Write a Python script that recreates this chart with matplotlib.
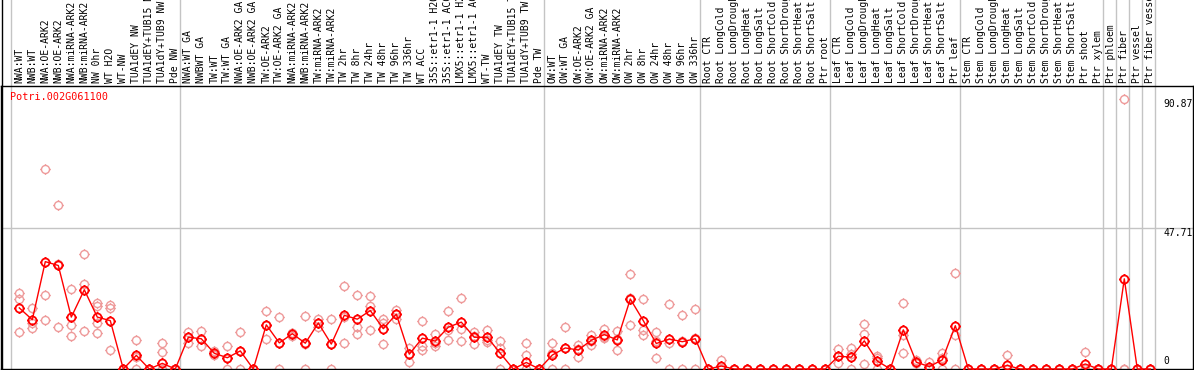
import numpy as np
import matplotlib
matplotlib.use("Agg")
import matplotlib.pyplot as plt
from matplotlib.path import Path
from matplotlib.lines import Line2D
from matplotlib.transforms import blended_transform_factory

gene = "Potri.002G061100"

labels = [
    # nw
    "NWA:WT", "NWB:WT", "NWA:OE-ARK2", "NWB:OE-ARK2", "NWA:miRNA-ARK2",
    "NWB:miRNA-ARK2", "NW 0hr", "WT H2O", "WT-NW", "TUA1dEY NW",
    "TUA1dEY+TUB15 NW", "TUA1dY+TUB9 NW", "Pde NW",
    # tw
    "NWA:WT GA", "NWBWT GA", "TW:WT", "TW:WT GA", "NWA:OE-ARK2 GA",
    "NWB:OE-ARK2 GA", "TW:OE-ARK2", "TW:OE-ARK2 GA", "NWA:miRNA-ARK2",
    "NWB:miRNA-ARK2", "TW:miRNA-ARK2", "TW:miRNA-ARK2", "TW 2hr", "TW 8hr",
    "TW 24hr", "TW 48hr", "TW 96hr", "TW 336hr", "WT ACC", "35S::etr1-1 H2O",
    "35S::etr1-1 ACC", "LMX5::etr1-1 H2O", "LMX5::etr1-1 ACC", "WT-TW",
    "TUA1dEY TW", "TUA1dEY+TUB15 TW", "TUA1dY+TUB9 TW", "Pde TW",
    # ow
    "OW:WT", "OW:WT GA", "OW:OE-ARK2", "OW:OE-ARK2 GA", "OW:miRNA-ARK2",
    "OW:miRNA-ARK2", "OW 2hr", "OW 8hr", "OW 24hr", "OW 48hr", "OW 96hr",
    "OW 336hr",
    # root
    "Root CTR", "Root LongCold", "Root LongDrought", "Root LongHeat",
    "Root LongSalt", "Root ShortCold", "Root ShortDrought", "Root ShortHeat",
    "Root ShortSalt", "Ptr root",
    # leaf
    "Leaf CTR", "Leaf LongCold", "Leaf LongDrought", "Leaf LongHeat",
    "Leaf LongSalt", "Leaf ShortCold", "Leaf ShortDrought", "Leaf ShortHeat",
    "Leaf ShortSalt", "Ptr leaf",
    # stem
    "Stem CTR", "Stem LongCold", "Stem LongDrought", "Stem LongHeat",
    "Stem LongSalt", "Stem ShortCold", "Stem ShortDrought", "Stem ShortHeat",
    "Stem ShortSalt", "Ptr shoot", "Ptr xylem",
    # single tissues
    "Ptr phloem", "Ptr fiber", "Ptr vessel", "Ptr fiber vessel",
]

group_sizes = [13, 28, 12, 10, 10, 11, 1, 1, 1, 1]

means = [
    20.6, 16.6, 36.2, 34.9, 17.5, 26.7, 17.5, 16.3, 0, 4.6, 0, 1.9, 0,
    10.7, 10.2, 5.3, 3.8, 6.1, 0, 14.9, 8.8, 11.9, 8.7, 15.5, 8.4, 18.1, 16.8,
    19.7, 13.6, 18.5, 5.0, 10.4, 9.4, 14.1, 15.8, 10.7, 10.7, 5.3, 0, 2.2, 0,
    4.7, 7.1, 6.4, 9.7, 11.6, 9.8, 23.6, 16.3, 8.6, 10.1, 9.2, 10.2,
    0, 1.0, 0, 0, 0, 0, 0, 0, 0, 0,
    4.3, 4.0, 9.5, 2.7, 0, 13.2, 2.3, 0.8, 3.1, 14.6,
    0, 0, 0, 1.2, 0, 0, 0, 0, 0, 1.7, 0,
    0, 30.4, 0, 0,
]

z = [0, 0, 0]
reps = [
    [25.7, 23.6, 12.4], [20.6, 15.5, 13.8], [67.5, 25.0, 16.6],
    [55.3, 35.3, 14.1], [27.0, 14.7, 11.1], [38.9, 28.5, 12.8],
    [22.3, 21.4, 15.5, 12.1], [21.7, 20.6, 6.4], z, [9.8, 4.0, 0], z,
    [8.7, 5.7, 0], z,
    [12.4, 10.8, 8.9], [12.9, 10.1, 7.6], [6.1, 5.1, 4.7], [7.7, 3.8, 0],
    [12.5, 6.0, 0], z, [19.6, 15.0, 10.1], [17.5, 8.8, 0], [12.3, 12.3, 11.0],
    [17.9, 8.3, 0], [17.0, 15.4, 14.1], [17.0, 8.3, 0], [28.1, 17.4, 8.8],
    [25.1, 14.1, 11.8], [24.6, 21.1, 13.1], [16.8, 15.6, 8.4],
    [20.0, 18.5, 17.0], [7.2, 5.2, 2.5], [16.2, 7.8, 6.4], [11.9, 8.6, 7.8],
    [19.7, 13.2, 9.8], [24.0, 13.5, 9.5], [12.6, 11.1, 8.4], [13.2, 9.9, 9.0],
    [9.5, 7.2, 0], z, [8.7, 4.7, 0], z,
    [8.7, 5.4, 0], [14.1, 7.2, 0], [8.1, 6.9, 4.2], [11.5, 9.5, 8.1],
    [13.5, 10.9, 10.4], [12.9, 10.1, 6.4], [32.1, 24.0, 14.7],
    [23.6, 13.2, 11.3], [12.4, 9.6, 3.7], [21.9, 8.7, 0], [18.2, 9.4, 0],
    [20.2, 10.4, 0],
    z, [3.1, 0, 0], z, z, z, z, z, z, z, z,
    [6.7, 4.3, 1.9], [7.1, 4.9, 0], [15.1, 11.9, 1.6], [4.4, 3.7, 0], z,
    [22.3, 11.5, 5.3], [3.1, 1.9, 1.9], [2.3, 0, 0], [5.5, 3.8, 0],
    [32.4, 11.5, 0],
    z, z, z, [4.6, 0, 0], z, z, z, z, z, [5.6, 0, 0], z,
    z, [90.87, 0, 0], z, z,
]

grid_val = 47.71
y_top = 95.42

# circle with four short ticks, like the old pixel markers
circ = Path.unit_circle()
ticks = [Path([(0, 1), (0, 1.3)]), Path([(0, -1), (0, -1.3)]),
         Path([(1, 0), (1.3, 0)]), Path([(-1, 0), (-1.3, 0)])]
tick_circle = Path.make_compound_path(circ, *ticks)

W, H = 1194, 370
fig = plt.figure(figsize=(W / 100, H / 100), dpi=100)
ax_top_px = 86
ax = fig.add_axes([1 / W, 1 / H, 1191.5 / W, (369 - ax_top_px) / H])

x = np.arange(len(labels))
ax.set_xlim((1 - 19.3) / 13, (1192.5 - 19.3) / 13)
ax.set_ylim(0, y_top)

# group separators, run up through the header
starts = np.concatenate([[0], np.cumsum(group_sizes)])
seps = starts - 0.64
hdr = 1 + ax_top_px / (369 - ax_top_px)
trans = blended_transform_factory(ax.transData, ax.transAxes)
ax.vlines(seps, 0, hdr + 0.05, transform=trans, colors="#c4c4c4", lw=1,
          clip_on=False, zorder=1)
ax.axhline(grid_val, color="#c4c4c4", lw=1, zorder=1)

# replicates
for i, r in enumerate(reps):
    ax.plot([i] * len(r), r, linestyle="none", marker=tick_circle,
            markersize=7.5, markerfacecolor="none", markeredgecolor="#ee9a9a",
            markeredgewidth=1.0, clip_on=False, zorder=2)

# means
ax.plot(x, means, color="red", lw=1, zorder=3, clip_on=False)
ax.plot(x, means, linestyle="none", marker=tick_circle, markersize=7.5,
        markerfacecolor="none", markeredgecolor="red", markeredgewidth=1.3,
        clip_on=False, zorder=4)

for s in ax.spines.values():
    s.set_color("black")
    s.set_linewidth(1)
ax.set_xticks([])
ax.set_yticks([])

mono = "DejaVu Sans Mono"
for i, lab in enumerate(labels):
    ax.text(i, 1 + 3 / (369 - ax_top_px), lab, transform=trans, rotation=90,
            ha="center", va="bottom", fontsize=7, family=mono, clip_on=False)

ytr = ax.get_yaxis_transform()
xr = (1163 - 1) / 1191.5
ax.text(xr, max(max(r) for r in reps), "90.87", transform=ytr, ha="left",
        va="top", fontsize=7, family=mono)
ax.text(xr, grid_val, "47.71", transform=ytr, ha="left", va="top",
        fontsize=7, family=mono)
ax.text(xr, 1.0, "0", transform=ytr, ha="left", va="bottom",
        fontsize=7, family=mono)

ax.text(9 / 1191.5, 1 - 6 / (369 - ax_top_px), gene, transform=ax.transAxes,
        ha="left", va="top", fontsize=7.3, family=mono, color="red")

fig.add_artist(Line2D([1.5 / W, 1.5 / W], [0, 1], color="black", lw=1,
                      transform=fig.transFigure))

fig.savefig("out.png", dpi=100)
